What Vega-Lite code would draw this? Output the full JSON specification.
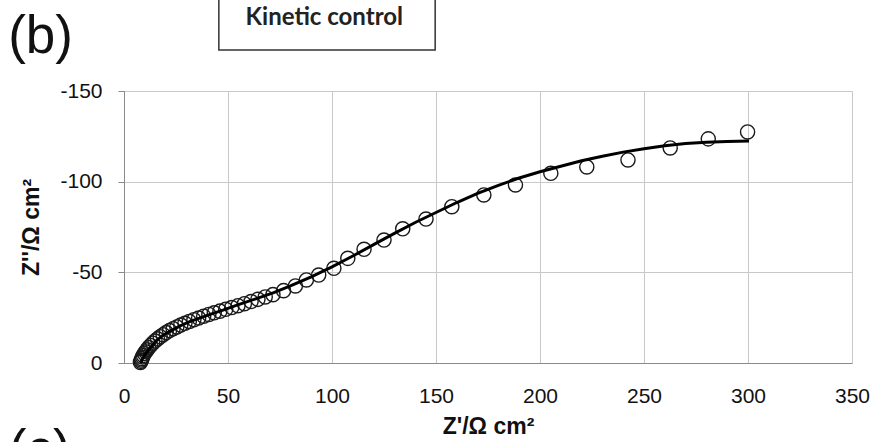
{
  "$schema": "https://vega.github.io/schema/vega-lite/v6.json",
  "width": 728,
  "height": 272,
  "autosize": "none",
  "padding": {"left": 124, "top": 91, "right": 25, "bottom": 79},
  "background": "white",
  "config": {"view": {"stroke": null}, "font": "Liberation Sans"},
  "datasets": {
    "measured": [
      {"zre": 7.9, "zim": -0.3}, {"zre": 8.1, "zim": -0.9}, {"zre": 8.3, "zim": -1.6}, {"zre": 8.6, "zim": -2.4},
      {"zre": 8.9, "zim": -3.3}, {"zre": 9.3, "zim": -4.2}, {"zre": 9.8, "zim": -5.2}, {"zre": 10.4, "zim": -6.2},
      {"zre": 11.1, "zim": -7.3}, {"zre": 11.9, "zim": -8.5}, {"zre": 12.8, "zim": -9.7}, {"zre": 13.8, "zim": -10.9},
      {"zre": 14.9, "zim": -12.1}, {"zre": 16.1, "zim": -13.3}, {"zre": 17.4, "zim": -14.5}, {"zre": 18.8, "zim": -15.6},
      {"zre": 20.3, "zim": -16.8}, {"zre": 21.9, "zim": -17.9}, {"zre": 23.6, "zim": -18.9}, {"zre": 25.4, "zim": -19.9},
      {"zre": 27.3, "zim": -20.9}, {"zre": 29.3, "zim": -21.9}, {"zre": 31.4, "zim": -22.9}, {"zre": 33.6, "zim": -23.9},
      {"zre": 35.9, "zim": -24.8}, {"zre": 38.3, "zim": -25.8}, {"zre": 40.8, "zim": -26.8}, {"zre": 43.4, "zim": -27.7},
      {"zre": 46.1, "zim": -28.6}, {"zre": 48.9, "zim": -29.6}, {"zre": 51.8, "zim": -30.6}, {"zre": 54.8, "zim": -31.6},
      {"zre": 57.9, "zim": -32.7}, {"zre": 61.1, "zim": -33.9}, {"zre": 64.4, "zim": -35.1}, {"zre": 67.9, "zim": -36.4},
      {"zre": 71.6, "zim": -37.7}, {"zre": 76.7, "zim": -39.9}, {"zre": 82.4, "zim": -42.5}, {"zre": 87.7, "zim": -45.8},
      {"zre": 93.6, "zim": -48.5}, {"zre": 100.9, "zim": -52.2}, {"zre": 107.6, "zim": -57.7}, {"zre": 115.4, "zim": -62.7},
      {"zre": 125.0, "zim": -67.8}, {"zre": 134.0, "zim": -74.0}, {"zre": 145.2, "zim": -79.4}, {"zre": 157.6, "zim": -86.2},
      {"zre": 173.0, "zim": -92.7}, {"zre": 188.2, "zim": -98.2}, {"zre": 205.2, "zim": -104.6}, {"zre": 222.5, "zim": -108.1},
      {"zre": 242.3, "zim": -112.0}, {"zre": 262.6, "zim": -118.6}, {"zre": 280.9, "zim": -123.6}, {"zre": 299.8, "zim": -127.4}
    ],
    "fit": [
      {"zre": 8.0, "zim": 0}, {"zre": 9.0, "zim": -2.5}, {"zre": 10.0, "zim": -4.5}, {"zre": 12.0, "zim": -7.5},
      {"zre": 15.6, "zim": -12.3}, {"zre": 19.0, "zim": -15.5}, {"zre": 23.6, "zim": -18.4}, {"zre": 27.0, "zim": -20.5},
      {"zre": 31.6, "zim": -22.8}, {"zre": 40.0, "zim": -26.3}, {"zre": 47.6, "zim": -29.2}, {"zre": 55.0, "zim": -32.2},
      {"zre": 63.7, "zim": -35.5}, {"zre": 72.0, "zim": -38.8}, {"zre": 80.0, "zim": -42.5}, {"zre": 90.0, "zim": -47.5},
      {"zre": 100.0, "zim": -53.0}, {"zre": 110.0, "zim": -59.0}, {"zre": 120.0, "zim": -65.3}, {"zre": 130.0, "zim": -71.5},
      {"zre": 140.0, "zim": -77.5}, {"zre": 150.0, "zim": -83.0}, {"zre": 160.0, "zim": -88.5}, {"zre": 170.0, "zim": -93.5},
      {"zre": 180.0, "zim": -98.0}, {"zre": 190.0, "zim": -102.0}, {"zre": 200.0, "zim": -105.5}, {"zre": 210.0, "zim": -108.5},
      {"zre": 220.0, "zim": -111.5}, {"zre": 230.0, "zim": -114.0}, {"zre": 240.0, "zim": -116.3}, {"zre": 250.0, "zim": -118.2},
      {"zre": 260.0, "zim": -119.8}, {"zre": 270.0, "zim": -121.0}, {"zre": 280.0, "zim": -121.8}, {"zre": 290.0, "zim": -122.2},
      {"zre": 300.5, "zim": -122.4}
    ],
    "panels": [
      {"zre": -40.1, "zim": -171.0, "label": "(b)"},
      {"zre": -40.5, "zim": 57.4, "label": "(c)"}
    ],
    "box": [
      {"zre": 45.6, "zre2": 149.6, "zim": -205, "zim2": -172.6, "label": "Kinetic control", "tx": 96.3, "ty": -186.6}
    ]
  },
  "layer": [
    {
      "data": {"name": "measured"},
      "mark": {"type": "point", "shape": "circle", "filled": false, "size": 200, "stroke": "#1a1a1a", "strokeWidth": 1.4, "opacity": 1},
      "encoding": {
        "x": {
          "field": "zre", "type": "quantitative",
          "scale": {"domain": [0, 350], "nice": false, "zero": false},
          "axis": {
            "title": "Z'/Ω cm²",
            "values": [0, 50, 100, 150, 200, 250, 300, 350],
            "grid": true, "gridColor": "#c8c8c8", "gridWidth": 1,
            "domainColor": "#8a8a8a", "domainWidth": 1,
            "ticks": false, "tickSize": 0,
            "labelFont": "Liberation Sans", "labelFontSize": 21, "labelColor": "#111", "labelPadding": 22,
            "labelFlush": false,
            "titleFont": "Liberation Sans", "titleFontSize": 23, "titleFontWeight": "bold", "titleColor": "#111", "titlePadding": 9
          }
        },
        "y": {
          "field": "zim", "type": "quantitative",
          "scale": {"domain": [-150, 0], "nice": false, "zero": false, "reverse": true},
          "axis": {
            "title": "Z''/Ω cm²",
            "values": [-150, -100, -50, 0],
            "labelExpr": "datum.value == 0 ? '0' : '-' + abs(datum.value)",
            "grid": true, "gridColor": "#c8c8c8", "gridWidth": 1,
            "domainColor": "#8a8a8a", "domainWidth": 1,
            "tickSize": 6, "tickColor": "#8a8a8a",
            "labelFont": "Liberation Sans", "labelFontSize": 21, "labelColor": "#111", "labelPadding": 16,
            "labelFlush": false,
            "titleFont": "Liberation Sans", "titleFontSize": 23, "titleFontWeight": "bold", "titleColor": "#111", "titlePadding": 16
          }
        }
      }
    },
    {
      "data": {"name": "fit"},
      "mark": {"type": "line", "color": "#000", "strokeWidth": 3},
      "encoding": {
        "x": {"field": "zre", "type": "quantitative"},
        "y": {"field": "zim", "type": "quantitative"}
      }
    },
    {
      "data": {"name": "box"},
      "mark": {"type": "rect", "fill": null, "fillOpacity": 0, "stroke": "#333", "strokeWidth": 1.5},
      "encoding": {
        "x": {"field": "zre", "type": "quantitative"},
        "x2": {"field": "zre2"},
        "y": {"field": "zim", "type": "quantitative"},
        "y2": {"field": "zim2"}
      }
    },
    {
      "data": {"name": "box"},
      "mark": {"type": "text", "font": "Lato", "fontWeight": "bold", "fontSize": 24, "color": "#222", "align": "center", "baseline": "alphabetic"},
      "encoding": {
        "x": {"field": "tx", "type": "quantitative"},
        "y": {"field": "ty", "type": "quantitative"},
        "text": {"field": "label"}
      }
    },
    {
      "data": {"name": "panels"},
      "mark": {"type": "text", "font": "Liberation Sans", "fontSize": 53, "color": "#111", "align": "center", "baseline": "alphabetic"},
      "encoding": {
        "x": {"field": "zre", "type": "quantitative"},
        "y": {"field": "zim", "type": "quantitative"},
        "text": {"field": "label"}
      }
    }
  ]
}
